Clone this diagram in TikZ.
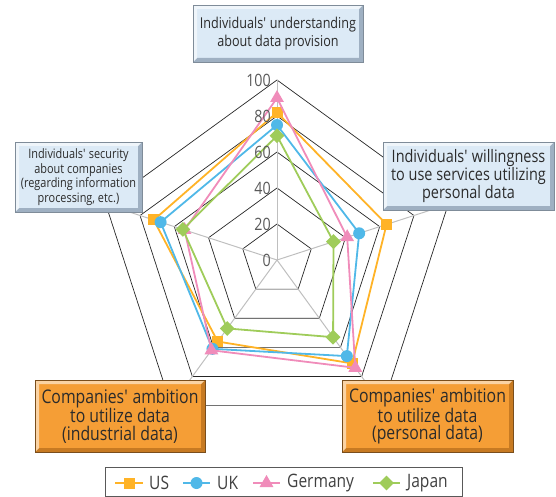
\documentclass[tikz,border=0pt]{standalone}
\usepackage{fontspec}
\setmainfont[FakeStretch=0.84]{Open Sans}
\newcommand\apos{\textquotesingle}
\usetikzlibrary{shapes.geometric}

\definecolor{usc}{HTML}{FFB327}
\definecolor{ukc}{HTML}{50B8E8}
\definecolor{dec}{HTML}{F08CBA}
\definecolor{jpc}{HTML}{9FCC5A}
\definecolor{gridc}{HTML}{262626}
\definecolor{axisc}{HTML}{BFBFBF}
\definecolor{tickc}{HTML}{595959}
\definecolor{bluefill}{HTML}{DCEAF6}
\definecolor{bluedark}{HTML}{9FB0C2}
\definecolor{blueline}{HTML}{7F8C99}
\definecolor{orfill}{HTML}{F59E36}
\definecolor{ordark}{HTML}{C77A22}
\definecolor{orline}{HTML}{7A4E1C}
\definecolor{textc}{HTML}{2B2B2B}
\definecolor{legc}{HTML}{404040}

\tikzset{
  bevelbox/.style n args={3}{
    rectangle, fill=#1, draw=#3, line width=0.8pt, inner sep=0pt,
    align=center, text=textc,
    path picture={
      \fill[#2] (path picture bounding box.south west)
        -- (path picture bounding box.south east)
        -- (path picture bounding box.north east)
        -- ([shift={(-4pt,-4pt)}]path picture bounding box.north east)
        -- ([shift={(-4pt,4pt)}]path picture bounding box.south east)
        -- ([shift={(4pt,4pt)}]path picture bounding box.south west) -- cycle;
      \fill[white,opacity=.55] (path picture bounding box.south west)
        -- (path picture bounding box.north west)
        -- (path picture bounding box.north east)
        -- ([shift={(-4pt,-4pt)}]path picture bounding box.north east)
        -- ([shift={(4pt,-4pt)}]path picture bounding box.north west)
        -- ([shift={(4pt,4pt)}]path picture bounding box.south west) -- cycle;
    }},
  bluebox/.style={bevelbox={bluefill}{bluedark}{blueline}},
  orangebox/.style={bevelbox={orfill}{ordark}{orline}},
  gridline/.style={draw=gridc, line width=0.7pt},
  axisline/.style={draw=axisc, line width=1pt},
  ticklabel/.style={anchor=east, text=tickc, font=\fontsize{17}{19}\selectfont, inner sep=0pt},
  series/.style={draw=#1, line width=1.8pt, line join=round},
  usmk/.style={rectangle, fill=usc, minimum size=11pt, inner sep=0pt},
  ukmk/.style={circle, fill=ukc, minimum size=12pt, inner sep=0pt},
  demk/.style={regular polygon, regular polygon sides=3, fill=dec, minimum size=16pt, inner sep=0pt},
  jpmk/.style={diamond, fill=jpc, minimum size=15pt, inner sep=0pt},
  legendtext/.style={anchor=west, text=legc, font=\fontsize{18.5}{20}\selectfont, inner sep=0pt},
}

\begin{document}
\begin{tikzpicture}[x=1pt, y=-1pt]
\useasboundingbox (0,0) rectangle (556,497);

% radar grid, series and markers (values scaled 1.8pt per point)
\begin{scope}[shift={(277,260)}, scale=1.8]
  \foreach \r in {20,40,60,80,100}
    \draw[gridline] (90:\r pt) -- (18:\r pt) -- (-54:\r pt) -- (-126:\r pt) -- (162:\r pt) -- cycle;
  \foreach \a in {90,18,-54,-126,162}
    \draw[axisline] (0,0) -- (\a:100pt);

  \draw[series=usc] (90:82pt) -- (18:64pt) -- (-54:71pt) -- (-126:56pt) -- (162:72pt) -- cycle;
  \foreach \a/\v [count=\i] in {90/82,18/64,-54/71,-126/56,162/72}
    \node[usmk] (us\i) at (\a:\v pt) {};

  \draw[series=ukc] (90:75pt) -- (18:48pt) -- (-54:66pt) -- (-126:61pt) -- (162:68pt) -- cycle;
  \foreach \a/\v [count=\i] in {90/75,18/48,-54/66,-126/61,162/68}
    \node[ukmk] (uk\i) at (\a:\v pt) {};

  \draw[series=dec] (90:90pt) -- (18:41pt) -- (-54:74pt) -- (-126:62pt) -- (162:54pt) -- cycle;
  \foreach \a/\v [count=\i] in {90/90,18/41,-54/74,-126/62,162/54}
    \node[demk] (de\i) at (\a:\v pt) {};

  \draw[series=jpc] (90:69pt) -- (18:33pt) -- (-54:53pt) -- (-126:47pt) -- (162:55pt) -- cycle;
  \foreach \a/\v [count=\i] in {90/69,18/33,-54/53,-126/47,162/55}
    \node[jpmk] (jp\i) at (\a:\v pt) {};
\end{scope}

% value labels along the top axis
\foreach \v in {0,20,40,60,80,100}
  \node[ticklabel] (tick\v) at (271,{260-1.8*\v}) {\v};

% category boxes
\node[bluebox, minimum width=170pt, minimum height=57pt,
      font=\fontsize{15}{18}\selectfont] (understanding) at (278,33.5)
  {Individuals\apos{} understanding\\about data provision};
\node[bluebox, minimum width=127pt, minimum height=70pt,
      font=\fontsize{13}{14.5}\selectfont] (security) at (78.5,177)
  {Individuals\apos{} security\\about companies\\(regarding information\\processing, etc.)};
\node[bluebox, minimum width=171pt, minimum height=68pt,
      font=\fontsize{17.2}{18}\selectfont] (willingness) at (468.5,176)
  {Individuals\apos{} willingness\\to use services utilizing\\personal data};
\node[orangebox, minimum width=170pt, minimum height=72pt,
      font=\fontsize{18.8}{17.5}\selectfont] (industrial) at (120,416)
  {Companies\apos{} ambition\\to utilize data\\(industrial data)};
\node[orangebox, minimum width=171pt, minimum height=72pt,
      font=\fontsize{18.8}{17.5}\selectfont] (personal) at (427.5,416)
  {Companies\apos{} ambition\\to utilize data\\(personal data)};

% legend
\node[draw=tickc, line width=0.8pt, fill=white, minimum width=357pt, minimum height=29pt, inner sep=0pt] (legend) at (283.5,481.5) {};
\draw[series=usc] (115,483) -- (143,483);
\node[usmk] (lus) at (129,483) {};
\node[legendtext] (lusT) at (149,483) {US};
\draw[series=ukc] (183,483) -- (210,483);
\node[ukmk] (luk) at (196.5,483) {};
\node[legendtext] (lukT) at (217,483) {UK};
\draw[series=dec] (253,483) -- (280,483);
\node[demk] (lde) at (266.5,483) {};
\node[legendtext] (ldeT) at (287,483) {Germany};
\draw[series=jpc] (373,483) -- (400,483);
\node[jpmk] (ljp) at (386.5,483) {};
\node[legendtext] (ljpT) at (407,483) {Japan};
\end{tikzpicture}
\end{document}
